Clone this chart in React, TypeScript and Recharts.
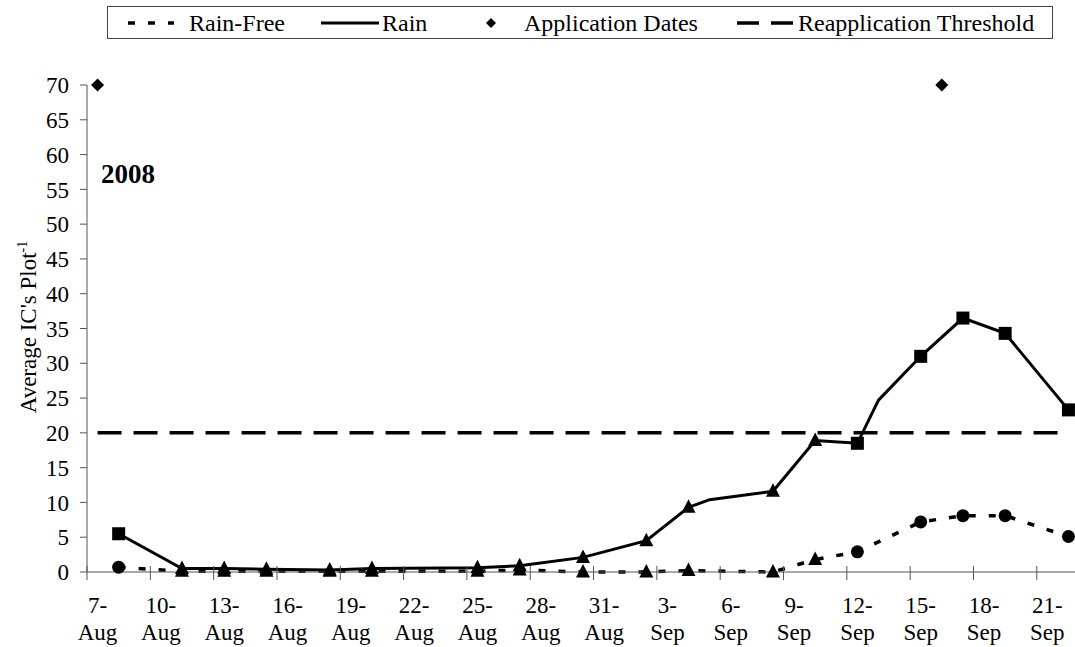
import React from 'react';
import { ComposedChart, Line, XAxis, YAxis, ReferenceLine } from 'recharts';

const FONT = '"Liberation Serif", "Times New Roman", serif';

// sampling dates (2008 season) and average IC counts per plot
const sampleDates = [
  '8-Aug', '11-Aug', '13-Aug', '15-Aug', '18-Aug', '20-Aug', '25-Aug', '27-Aug', '30-Aug',
  '2-Sep', '4-Sep', '5-Sep', '8-Sep', '10-Sep', '12-Sep', '13-Sep', '15-Sep', '17-Sep', '19-Sep', '22-Sep',
];
const rain = [5.5, 0.5, 0.5, 0.4, 0.3, 0.5, 0.6, 0.9, 2.1, 4.5, 9.3, 10.4, 11.6, 18.9, 18.5, 24.7, 31.0, 36.5, 34.3, 23.3];
const rainFree = [0.7, 0.1, 0.1, 0.1, 0.1, 0.1, 0.1, 0.3, 0.0, 0.0, 0.2, null, 0.0, 1.8, 2.9, null, 7.2, 8.1, 8.1, 5.1];
const rainMarkers = [
  'square', 'triangle', 'triangle', 'triangle', 'triangle', 'triangle', 'triangle', 'triangle', 'triangle',
  'triangle', 'triangle', null, 'triangle', 'triangle', 'square', null, 'square', 'square', 'square', 'square',
];
const rainFreeMarkers = [
  'circle', 'triangle', 'triangle', 'triangle', 'triangle', 'triangle', 'triangle', 'triangle', 'triangle',
  'triangle', 'triangle', null, 'triangle', 'triangle', 'circle', null, 'circle', 'circle', 'circle', 'circle',
];

const applicationDates = ['7-Aug', '16-Sep'];
const applicationLevel = 70;
const threshold = 20;
const thresholdSpan = ['7-Aug', '22-Sep'];

const tickLabels = [
  '7-Aug', '10-Aug', '13-Aug', '16-Aug', '19-Aug', '22-Aug', '25-Aug', '28-Aug', '31-Aug',
  '3-Sep', '6-Sep', '9-Sep', '12-Sep', '15-Sep', '18-Sep', '21-Sep',
];
const yTicks = [0, 5, 10, 15, 20, 25, 30, 35, 40, 45, 50, 55, 60, 65, 70];

const MONTHS: Record<string, number> = { Aug: 7, Sep: 8 };
const START = Date.UTC(2008, 7, 7);
const dayOf = (label: string) => {
  const [d, m] = label.split('-');
  return Math.round((Date.UTC(2008, MONTHS[m], Number(d)) - START) / 86400000);
};

type Row = { day: number; rain?: number | null; rainFree?: number | null; app?: number; rm?: string | null; fm?: string | null };

const rowMap = new Map<number, Row>();
sampleDates.forEach((s, i) => {
  const day = dayOf(s);
  rowMap.set(day, { day, rain: rain[i], rainFree: rainFree[i], rm: rainMarkers[i], fm: rainFreeMarkers[i] });
});
applicationDates.forEach((s) => {
  const day = dayOf(s);
  const row = rowMap.get(day) ?? { day };
  row.app = applicationLevel;
  rowMap.set(day, row);
});
const data = Array.from(rowMap.values()).sort((a, b) => a.day - b.day);

// tick marks sit on day boundaries, labels on the day itself
const tickBounds = tickLabels.map((t) => dayOf(t) - 0.5);
const HALF_DAY = 10.55;

const Marker = ({ cx, cy, shape }: { cx: number; cy: number; shape: string }) => {
  if (shape === 'square') return <rect x={cx - 6.5} y={cy - 6.5} width={13} height={13} fill="#000" />;
  if (shape === 'circle') return <circle cx={cx} cy={cy} r={6.5} fill="#000" />;
  if (shape === 'diamond')
    return <polygon points={`${cx},${cy - 6.5} ${cx + 6.5},${cy} ${cx},${cy + 6.5} ${cx - 6.5},${cy}`} fill="#000" />;
  return <polygon points={`${cx},${cy - 8} ${cx + 7},${cy + 5.5} ${cx - 7},${cy + 5.5}`} fill="#000" />;
};

const makeDot = (key: 'rm' | 'fm' | 'app') => (props: any) => {
  const { cx, cy, payload, index, value } = props;
  const shape = key === 'app' ? 'diamond' : payload[key];
  if (cx == null || cy == null || value == null || !shape) return <g key={`${key}-${index}`} />;
  return (
    <g key={`${key}-${index}`}>
      <Marker cx={cx} cy={cy} shape={shape} />
    </g>
  );
};

const DateTick = (props: any) => {
  const { x, y, index } = props;
  const [d, m] = tickLabels[index].split('-');
  return (
    <g>
      <line x1={x} x2={x} y1={y - 6} y2={y + 8} stroke="#555" strokeWidth={1} />
      <text x={x + HALF_DAY} y={y + 41} textAnchor="middle" fontSize={23} fontFamily={FONT} fill="#000">
        {d}-
      </text>
      <text x={x + HALF_DAY} y={y + 68} textAnchor="middle" fontSize={23} fontFamily={FONT} fill="#000">
        {m}
      </text>
    </g>
  );
};

const YLabel = () => (
  <text
    x={0}
    y={0}
    transform="translate(36, 327) rotate(-90)"
    textAnchor="middle"
    fontSize={23}
    fontFamily={FONT}
    fill="#000"
  >
    Average IC's Plot
    <tspan fontSize={14} dy={-9}>-1</tspan>
  </text>
);

const Legend = () => (
  <svg
    width={947}
    height={34}
    style={{ position: 'absolute', left: 107, top: 6 }}
    fontFamily={FONT}
    fontSize={24}
  >
    <rect x={0.5} y={0.5} width={945} height={32} fill="#fff" stroke="#444" />
    <line x1={21} x2={67} y1={17} y2={17} stroke="#000" strokeWidth={3.5} strokeDasharray="7 13" />
    <text x={82} y={25}>Rain-Free</text>
    <line x1={214} x2={272} y1={17} y2={17} stroke="#000" strokeWidth={3} />
    <text x={275} y={25}>Rain</text>
    <polygon points="384,12 389,17 384,22 379,17" fill="#000" />
    <text x={417} y={25}>Application Dates</text>
    <line x1={630} x2={686} y1={17} y2={17} stroke="#000" strokeWidth={3.5} strokeDasharray="22 12" />
    <text x={691} y={25}>Reapplication Threshold</text>
  </svg>
);

export default function App() {
  return (
    <div style={{ position: 'absolute', left: 0, top: 0, width: 1075, height: 647, overflow: 'hidden', background: '#fff' }}>
      <ComposedChart width={1079} height={647} data={data} margin={{ top: 85, right: 0, bottom: 0, left: 0 }}>
        <XAxis
          dataKey="day"
          type="number"
          domain={[-0.5, 46.5]}
          ticks={tickBounds}
          interval={0}
          tick={<DateTick />}
          tickLine={false}
          tickSize={0}
          tickMargin={0}
          height={75}
          axisLine={{ stroke: '#555' }}
        />
        <YAxis
          type="number"
          domain={[0, 70]}
          ticks={yTicks}
          interval={0}
          width={87}
          tickSize={7}
          tickMargin={11}
          axisLine={{ stroke: '#555' }}
          tickLine={{ stroke: '#555' }}
          tick={{ fill: '#000', fontSize: 23, fontFamily: FONT }}
          label={{ content: <YLabel /> }}
        />
        <ReferenceLine
          segment={[
            { x: dayOf(thresholdSpan[0]), y: threshold },
            { x: dayOf(thresholdSpan[1]), y: threshold },
          ]}
          stroke="#000"
          strokeWidth={3.5}
          strokeDasharray="24 12"
        />
        <Line
          dataKey="rainFree"
          type="linear"
          stroke="#000"
          strokeWidth={3.5}
          strokeDasharray="7 13"
          connectNulls
          dot={makeDot('fm')}
          activeDot={false}
          isAnimationActive={false}
        />
        <Line
          dataKey="rain"
          type="linear"
          stroke="#000"
          strokeWidth={3}
          connectNulls
          dot={makeDot('rm')}
          activeDot={false}
          isAnimationActive={false}
        />
        <Line
          dataKey="app"
          stroke="none"
          dot={makeDot('app')}
          activeDot={false}
          isAnimationActive={false}
        />
      </ComposedChart>
      <Legend />
      <div
        style={{
          position: 'absolute',
          left: 101,
          top: 158,
          fontFamily: FONT,
          fontWeight: 'bold',
          fontSize: 27,
          lineHeight: '32px',
        }}
      >
        2008
      </div>
    </div>
  );
}
